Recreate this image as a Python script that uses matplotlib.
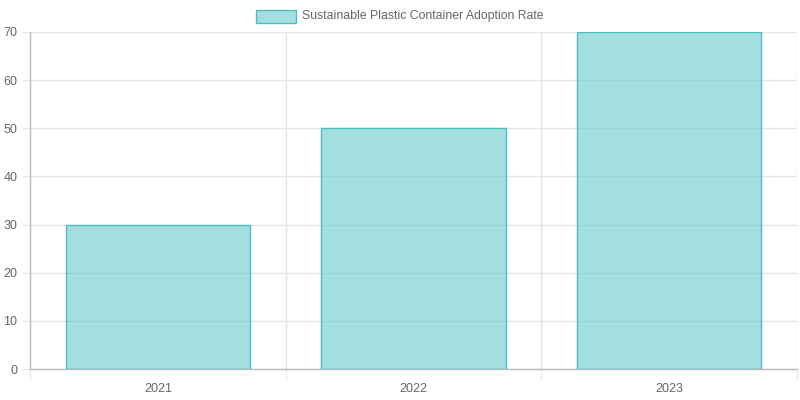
import numpy as np
import matplotlib.pyplot as plt
from matplotlib.patches import Rectangle

years = ['2021', '2022', '2023']
rates = [30, 50, 70]
label = 'Sustainable Plastic Container Adoption Rate'

plt.rcParams['font.family'] = ['Liberation Sans', 'DejaVu Sans']

fill = (75/255, 192/255, 192/255, 0.5)
edge = (75/255, 192/255, 192/255, 1.0)
grid = '#e5e5e5'
txt = '#666666'

fig = plt.figure(figsize=(8, 4), dpi=100)
ax = fig.add_axes([30/800, 31/400, 767/800, 337/400])

x = np.arange(len(years))
ax.bar(x, rates, width=0.72, color=fill, edgecolor=edge, linewidth=1, zorder=3)

ax.set_xlim(-0.5, len(years) - 0.5)
ax.set_ylim(0, 70)
ax.set_yticks(np.arange(0, 71, 10))
ax.set_xticks(x)
ax.set_xticklabels(years)
ax.set_xticks(np.arange(-0.5, len(years)), minor=True)

ax.grid(True, which='major', axis='y', color=grid, linewidth=1, zorder=0)
ax.grid(True, which='minor', axis='x', color=grid, linewidth=1, zorder=0)

ax.tick_params(axis='y', length=6, color=grid, labelsize=9, labelcolor=txt, pad=3)
ax.tick_params(axis='x', which='major', length=0, labelsize=9, labelcolor=txt, pad=10)
ax.tick_params(axis='x', which='minor', length=8, color=grid)

for s in ['top', 'right']:
    ax.spines[s].set_visible(False)
for s in ['left', 'bottom']:
    ax.spines[s].set_color('#bbbbbb')
    ax.spines[s].set_linewidth(1)

# legend drawn in figure pixels
fig.patches.append(Rectangle((256/800, (400-23)/400), 40/800, 13/400,
                             transform=fig.transFigure, facecolor=fill,
                             edgecolor=edge, linewidth=1))
fig.text(302/800, (400-16)/400, label, fontsize=8.8, color=txt, va='center', ha='left')

fig.savefig('out.png', dpi=100)
